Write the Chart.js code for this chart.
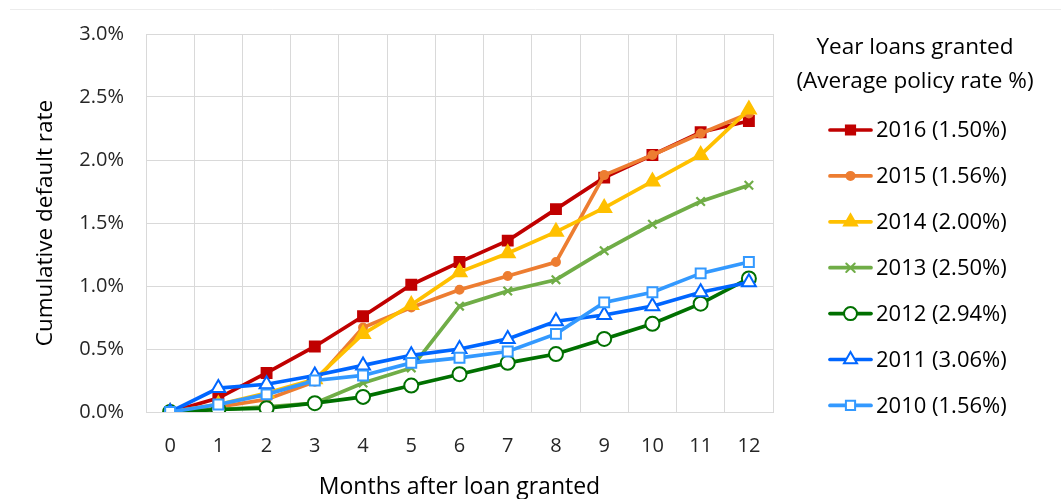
<!DOCTYPE html>
<html>
<head>
<meta charset="utf-8">
<script src="https://cdn.jsdelivr.net/npm/chart.js@4/dist/chart.umd.min.js"></script>
<style>
  html, body { margin: 0; padding: 0; background: #fff; }
  #wrap { width: 1061px; height: 499px; position: relative; }
</style>
</head>
<body>
<div id="wrap"><canvas id="c" width="1061" height="499"></canvas></div>
<script>
const months = ['0','1','2','3','4','5','6','7','8','9','10','11','12'];
const yTicks = [0, 0.5, 1.0, 1.5, 2.0, 2.5, 3.0];
const legendTitle = ['Year loans granted', '(Average policy rate %)'];

const labels2016 = '2016 (1.50%)';
const labels2015 = '2015 (1.56%)';
const labels2014 = '2014 (2.00%)';
const labels2013 = '2013 (2.50%)';
const labels2012 = '2012 (2.94%)';
const labels2011 = '2011 (3.06%)';
const labels2010 = '2010 (1.56%)';

const s2016 = [0, 0.11, 0.31, 0.52, 0.76, 1.01, 1.19, 1.36, 1.61, 1.86, 2.04, 2.22, 2.31];
const s2015 = [0, 0.04, 0.10, 0.24, 0.67, 0.83, 0.97, 1.08, 1.19, 1.88, 2.04, 2.21, 2.37];
const s2014 = [0, 0.06, 0.15, 0.26, 0.62, 0.85, 1.11, 1.26, 1.43, 1.62, 1.83, 2.04, 2.40];
const s2013 = [0, 0.02, 0.04, 0.07, 0.23, 0.35, 0.84, 0.96, 1.05, 1.28, 1.49, 1.67, 1.80];
const s2012 = [0, 0.02, 0.03, 0.07, 0.12, 0.21, 0.30, 0.39, 0.46, 0.58, 0.70, 0.86, 1.06];
const s2011 = [0, 0.19, 0.22, 0.29, 0.37, 0.45, 0.50, 0.58, 0.72, 0.77, 0.84, 0.95, 1.03];
const s2010 = [0, 0.06, 0.14, 0.25, 0.29, 0.39, 0.43, 0.48, 0.62, 0.87, 0.95, 1.10, 1.19];

const FONT = "'Open Sans', 'Noto Sans', sans-serif";

function ds(label, data, color, style, radius, fill, order) {
  return {
    label: label, data: data,
    borderColor: color, backgroundColor: fill,
    pointStyle: style, pointRadius: radius, pointHoverRadius: radius,
    pointBorderColor: color, pointBackgroundColor: fill,
    pointBorderWidth: 2, borderWidth: 3.7, tension: 0, order: order
  };
}

const datasets = [
  ds(labels2016, s2016, '#C00000', 'rect', 7, '#C00000', 6),
  ds(labels2015, s2015, '#ED7D31', 'circle', 4, '#ED7D31', 5),
  ds(labels2014, s2014, '#FFC000', 'triangle', 8, '#FFC000', 4),
  ds(labels2013, s2013, '#70AD47', 'crossRot', 6, '#70AD47', 3),
  ds(labels2012, s2012, '#007000', 'circle', 7, '#FFFFFF', 2),
  ds(labels2011, s2011, '#0066FF', 'triangle', 8, '#FFFFFF', 1),
  ds(labels2010, s2010, '#3399FF', 'rect', 7, '#FFFFFF', 0)
];
datasets[3].pointBorderWidth = 2.2;

function drawMarker(ctx, style, r, x, y, stroke, fill) {
  ctx.save();
  ctx.lineWidth = 2;
  ctx.strokeStyle = stroke;
  ctx.fillStyle = fill;
  ctx.beginPath();
  if (style === 'rect') {
    const s = r * Math.SQRT1_2;
    ctx.rect(x - s, y - s, 2 * s, 2 * s);
    ctx.fill(); ctx.stroke();
  } else if (style === 'circle') {
    ctx.arc(x, y, r, 0, Math.PI * 2);
    ctx.fill(); ctx.stroke();
  } else if (style === 'triangle') {
    const a = Math.PI / 2;
    ctx.moveTo(x + Math.cos(-a) * r, y + Math.sin(-a) * r);
    ctx.lineTo(x + Math.cos(-a + 2 * Math.PI / 3) * r, y + Math.sin(-a + 2 * Math.PI / 3) * r);
    ctx.lineTo(x + Math.cos(-a + 4 * Math.PI / 3) * r, y + Math.sin(-a + 4 * Math.PI / 3) * r);
    ctx.closePath();
    ctx.fill(); ctx.stroke();
  } else if (style === 'crossRot') {
    const s = r * Math.SQRT1_2;
    ctx.moveTo(x - s, y - s); ctx.lineTo(x + s, y + s);
    ctx.moveTo(x - s, y + s); ctx.lineTo(x + s, y - s);
    ctx.stroke();
  }
  ctx.restore();
}

const legendPlugin = {
  id: 'customLegend',
  afterDraw(chart) {
    const ctx = chart.ctx;
    ctx.save();
    // faint frame line at the top
    ctx.strokeStyle = '#ececec';
    ctx.lineWidth = 1;
    ctx.beginPath();
    ctx.moveTo(10, 9.5); ctx.lineTo(1061, 9.5);
    ctx.stroke();

    ctx.fillStyle = '#000';
    ctx.font = "22.5px " + FONT;
    ctx.textAlign = 'center';
    ctx.textBaseline = 'middle';
    ctx.fillText(legendTitle[0], 915, 48);
    ctx.fillText(legendTitle[1], 915, 82);

    const y0 = 130, step = 45.9;
    chart.data.datasets.forEach((d, i) => {
      const y = y0 + i * step;
      ctx.strokeStyle = d.borderColor;
      ctx.lineWidth = 3.7;
      ctx.lineCap = 'round';
      ctx.beginPath();
      ctx.moveTo(830, y); ctx.lineTo(871, y);
      ctx.stroke();
      let r = d.pointRadius;
      if (d.pointStyle === 'rect') r = 6.5;
      if (d.pointStyle === 'circle') r = d.pointBackgroundColor === '#FFFFFF' ? 6.5 : 4;
      if (d.pointStyle === 'triangle') r = 7.5;
      if (d.pointStyle === 'crossRot') r = 6;
      drawMarker(ctx, d.pointStyle, r, 850.5, y, d.pointBorderColor, d.pointBackgroundColor);
      ctx.fillStyle = '#000';
      ctx.font = "22px " + FONT;
      ctx.textAlign = 'left';
      ctx.textBaseline = 'middle';
      ctx.fillText(d.label, 876, y + 1);
    });
    ctx.restore();
  }
};

new Chart(document.getElementById('c'), {
  type: 'line',
  data: { labels: months, datasets: datasets },
  plugins: [legendPlugin],
  options: {
    responsive: false,
    animation: false,
    devicePixelRatio: 1,
    layout: { padding: { left: 0, right: 288, top: 33, bottom: 0 } },
    plugins: { legend: { display: false }, tooltip: { enabled: false } },
    scales: {
      x: {
        type: 'category',
        offset: true,
        grid: { offset: true, color: '#d9d9d9', lineWidth: 1, drawTicks: false },
        border: { color: '#d9d9d9' },
        ticks: { color: '#262626', font: { family: FONT, size: 20 }, padding: 22, maxRotation: 0, autoSkip: false },
        title: { display: true, text: 'Months after loan granted', color: '#000', font: { family: FONT, size: 23 }, padding: { top: 0, bottom: -2 } },
        afterFit(scale) { scale.height = 87; }
      },
      y: {
        min: yTicks[0], max: yTicks[yTicks.length - 1],
        afterBuildTicks(scale) { scale.ticks = yTicks.map(v => ({ value: v })); },
        grid: { color: '#d9d9d9', lineWidth: 1, drawTicks: false },
        border: { color: '#d9d9d9' },
        ticks: { color: '#262626', font: { family: FONT, size: 20 }, padding: 22,
                 callback: (v) => Number(v).toFixed(1) + '%' },
        title: { display: true, text: 'Cumulative default rate', color: '#000', font: { family: FONT, size: 22.5 }, padding: { top: 32, bottom: 0 } },
        afterFit(scale) { scale.width = 146; }
      }
    }
  }
});
</script>
</body>
</html>
